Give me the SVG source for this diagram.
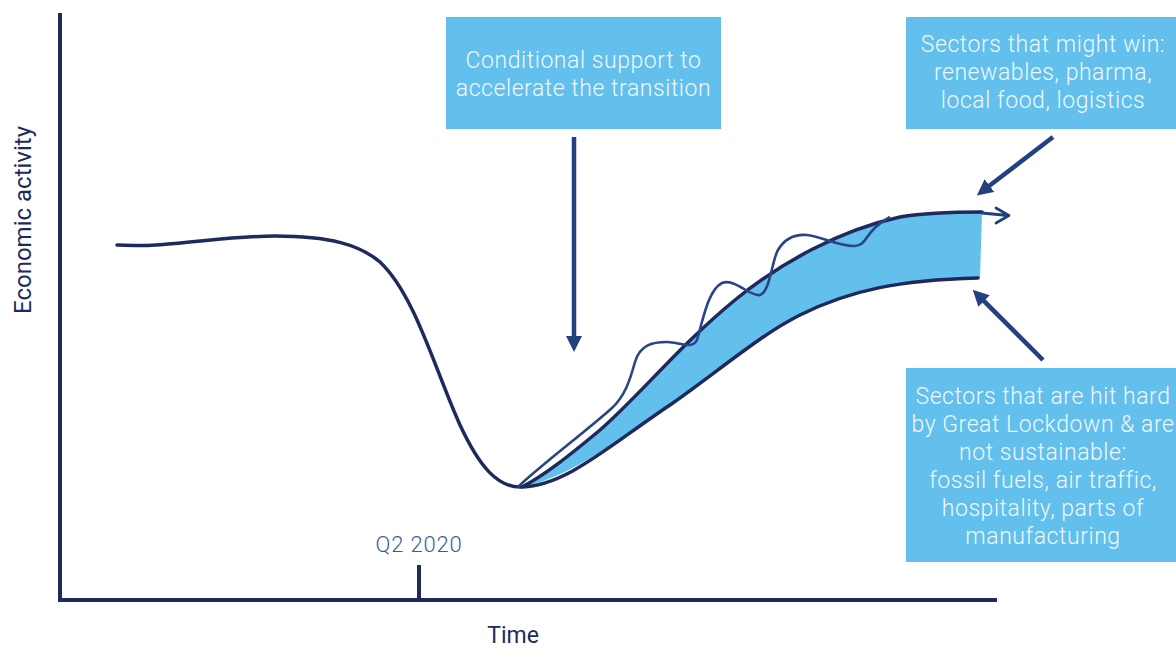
<svg xmlns="http://www.w3.org/2000/svg" width="1176" height="649" viewBox="0 0 1176 649">
<style>
.box{fill:#63bfeb}
.bt{font-family:Roboto,"Liberation Sans",sans-serif;font-weight:300;font-size:23px;letter-spacing:0.55px;fill:#eef8fd;text-anchor:middle}
.ax{stroke:#1f2a5c;stroke-width:4;fill:none}
.curve{stroke:#1e2a5e;stroke-width:3.5;fill:none;stroke-linecap:round}
.arr{stroke:#23407f;stroke-width:4.5;fill:none}
.lbl{font-family:Roboto,"Liberation Sans",sans-serif;text-anchor:middle}
</style>
<defs>
<marker id="ah" markerUnits="userSpaceOnUse" markerWidth="16" markerHeight="16" viewBox="0 0 16 16" refX="1" refY="8" orient="auto">
<path d="M0,0 L16,8 L0,16 Z" fill="#23407f"/>
</marker>
</defs>
<rect width="1176" height="649" fill="#ffffff"/>
<g id="axes">
<line class="ax" x1="60" y1="13" x2="60" y2="602"/>
<line class="ax" x1="58" y1="600" x2="997" y2="600"/>
<line class="ax" x1="419" y1="565" x2="419" y2="600"/>
<text class="lbl" x="419" y="552" font-size="22" letter-spacing="0.8" fill="#3b5a9c" font-weight="300">Q2 2020</text>
<text class="lbl" x="513" y="643" font-size="23" fill="#1e2a5e">Time</text>
<text class="lbl" transform="translate(31,220) rotate(-90)" font-size="24" fill="#1e2a5e">Economic activity</text>
</g>
<g id="band">
<path d="M522,487 C545,475 570,455 600,430 C640,395 680,345 735,300 C780,263 840,230 900,217 C930,212 960,212 982,212 L980,278 C900,280 850,290 800,315 C760,335 720,370 670,405 C610,445 565,480 520,487 Z" fill="#63bfeb"/>
</g>
<g id="curves">
<path class="curve" d="M117,245 C170,248 220,236 275,236 C330,236 360,245 380,262 C415,295 435,370 460,425 C480,468 498,487 520,487 C565,487 610,445 670,405 C720,370 760,335 800,315 C850,290 900,280 978,278"/>
<path class="curve" d="M522,487 C545,475 570,455 600,430 C640,395 680,345 735,300 C780,263 840,230 900,217 C930,212 960,212 982,212"/>
<path d="M518,487 C535,470 590,428 612,408 C625,396 630,380 635,362 C640,345 652,342 667,342 C680,342 692,350 697,340 C703,320 708,290 722,283 C735,278 750,297 760,295 C770,292 772,260 778,250 C785,238 795,234 807,235 C820,236 840,247 855,246 C868,245 865,230 890,217" fill="none" stroke="#2a4585" stroke-width="2.6"/>
</g>
<g id="connectors">
<line class="arr" x1="574" y1="137" x2="574" y2="337" marker-end="url(#ah)"/>
<line class="arr" x1="1053" y1="137" x2="988.7" y2="186.3" marker-end="url(#ah)"/>
<line class="arr" x1="1043" y1="360" x2="983.3" y2="300.3" marker-end="url(#ah)"/>
<path d="M982,213 L1008,215.5 M996,208 L1009,215.5 L996,223" fill="none" stroke="#23407f" stroke-width="2.8" stroke-linecap="round" stroke-linejoin="round"/>
</g>
<g id="box-support">
<rect class="box" x="446" y="17" width="275" height="112"/>
<text class="bt" x="583.5" y="68">Conditional support to</text>
<text class="bt" x="583.5" y="96">accelerate the transition</text>
</g>
<g id="box-win">
<rect class="box" x="906" y="17" width="270" height="112"/>
<text class="bt" x="1043" y="52">Sectors that might win:</text>
<text class="bt" x="1043" y="80">renewables, pharma,</text>
<text class="bt" x="1043" y="108">local food, logistics</text>
</g>
<g id="box-hit">
<rect class="box" x="906" y="368" width="270" height="194"/>
<text class="bt" x="1043" y="404">Sectors that are hit hard</text>
<text class="bt" x="1043" y="432">by Great Lockdown &amp; are</text>
<text class="bt" x="1043" y="460">not sustainable:</text>
<text class="bt" x="1043" y="488">fossil fuels, air traffic,</text>
<text class="bt" x="1043" y="516">hospitality, parts of</text>
<text class="bt" x="1043" y="544">manufacturing</text>
</g>
</svg>
